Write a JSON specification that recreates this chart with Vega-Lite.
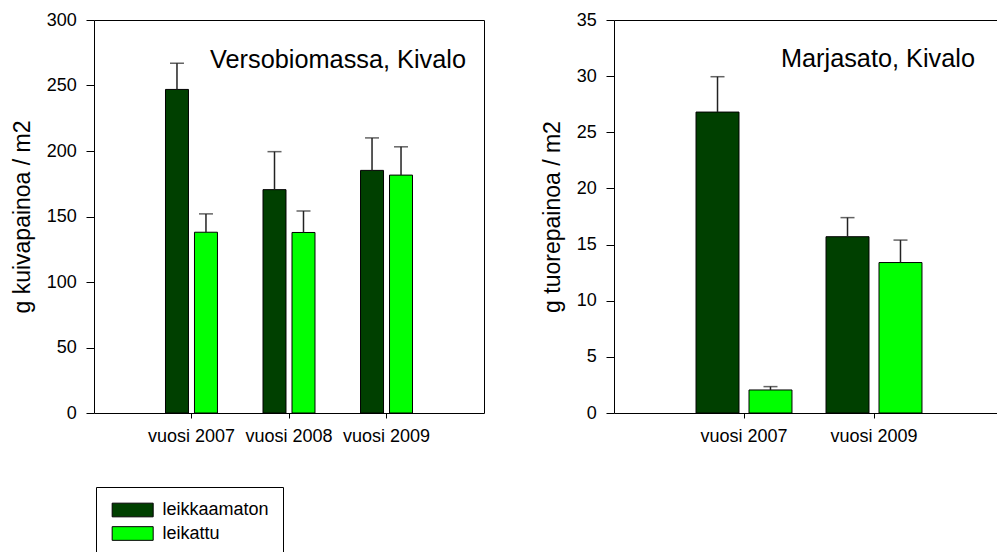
{
  "$schema": "https://vega.github.io/schema/vega-lite/v6.json",
  "background": "white",
  "padding": {"left": 10, "top": 10, "right": 0, "bottom": 0},
  "datasets": {
    "biomassa": [
      {"vuosi": "vuosi 2007", "hoito": "leikkaamaton", "keskiarvo": 247, "ylaraja": 267},
      {"vuosi": "vuosi 2007", "hoito": "leikattu", "keskiarvo": 138, "ylaraja": 152},
      {"vuosi": "vuosi 2008", "hoito": "leikkaamaton", "keskiarvo": 170.5, "ylaraja": 199.5},
      {"vuosi": "vuosi 2008", "hoito": "leikattu", "keskiarvo": 137.8, "ylaraja": 154.2},
      {"vuosi": "vuosi 2009", "hoito": "leikkaamaton", "keskiarvo": 185.2, "ylaraja": 210},
      {"vuosi": "vuosi 2009", "hoito": "leikattu", "keskiarvo": 181.6, "ylaraja": 203.2}
    ],
    "marjasato": [
      {"vuosi": "vuosi 2007", "hoito": "leikkaamaton", "keskiarvo": 26.8, "ylaraja": 29.95},
      {"vuosi": "vuosi 2007", "hoito": "leikattu", "keskiarvo": 2.05, "ylaraja": 2.35},
      {"vuosi": "vuosi 2009", "hoito": "leikkaamaton", "keskiarvo": 15.7, "ylaraja": 17.4},
      {"vuosi": "vuosi 2009", "hoito": "leikattu", "keskiarvo": 13.4, "ylaraja": 15.4}
    ]
  },
  "hconcat": [
    {
      "width": 390,
      "height": 393,
      "title": {
        "text": "Versobiomassa, Kivalo",
        "anchor": "end",
        "orient": "top",
        "frame": "group",
        "offset": 0,
        "dx": -18,
        "dy": 82,
        "baseline": "alphabetic",
        "fontSize": 25.3,
        "fontWeight": "normal",
        "font": "Liberation Sans",
        "color": "black"
      },
      "data": {"name": "biomassa"},
      "encoding": {
        "x": {
          "field": "vuosi",
          "type": "nominal",
          "scale": {"paddingInner": 0.467, "paddingOuter": 0.733},
          "axis": {"title": null, "labelAngle": 0}
        },
        "xOffset": {
          "field": "hoito",
          "type": "nominal",
          "scale": {"domain": ["leikkaamaton", "leikattu"], "paddingInner": 0.207, "paddingOuter": 0}
        }
      },
      "layer": [
        {
          "mark": {"type": "bar", "stroke": "black", "strokeWidth": 1},
          "encoding": {
            "y": {
              "field": "keskiarvo",
              "type": "quantitative",
              "scale": {"domain": [0, 300], "nice": false},
              "axis": {"title": "g kuivapainoa / m2", "values": [0, 50, 100, 150, 200, 250, 300]}
            },
            "color": {
              "field": "hoito",
              "type": "nominal",
              "scale": {"domain": ["leikkaamaton", "leikattu"], "range": ["#004000", "#00ff00"]},
              "legend": {
                "orient": "none",
                "legendX": 2,
                "legendY": 467,
                "title": null,
                "symbolType": "M-1,-1H5V1H-1Z",
                "symbolSize": 187,
                "symbolStrokeColor": "black",
                "symbolStrokeWidth": 1,
                "labelFontSize": 18,
                "labelFont": "Liberation Sans",
                "labelColor": "black",
                "labelOffset": 34.4,
                "padding": 14,
                "rowPadding": 5.5,
                "strokeColor": "black",
                "fillColor": "white"
              }
            }
          }
        },
        {
          "mark": {"type": "rule", "color": "#222", "strokeWidth": 1.5},
          "encoding": {
            "y": {"field": "keskiarvo", "type": "quantitative", "axis": {"title": "g kuivapainoa / m2", "values": [0, 50, 100, 150, 200, 250, 300]}},
            "y2": {"field": "ylaraja"}
          }
        },
        {
          "mark": {"type": "tick", "color": "#222", "size": 14, "thickness": 1.5},
          "encoding": {
            "y": {"field": "ylaraja", "type": "quantitative", "axis": {"title": "g kuivapainoa / m2", "values": [0, 50, 100, 150, 200, 250, 300]}}
          }
        }
      ]
    },
    {
      "width": 390,
      "height": 393,
      "title": {
        "text": "Marjasato, Kivalo",
        "anchor": "end",
        "orient": "top",
        "frame": "group",
        "offset": 0,
        "dx": -29,
        "dy": 81,
        "baseline": "alphabetic",
        "fontSize": 25.3,
        "fontWeight": "normal",
        "font": "Liberation Sans",
        "color": "black"
      },
      "data": {"name": "marjasato"},
      "encoding": {
        "x": {
          "field": "vuosi",
          "type": "nominal",
          "scale": {"paddingInner": 0.262, "paddingOuter": 0.631},
          "axis": {"title": null, "labelAngle": 0}
        },
        "xOffset": {
          "field": "hoito",
          "type": "nominal",
          "scale": {"domain": ["leikkaamaton", "leikattu"], "paddingInner": 0.189, "paddingOuter": 0}
        }
      },
      "layer": [
        {
          "mark": {"type": "bar", "stroke": "black", "strokeWidth": 1},
          "encoding": {
            "y": {
              "field": "keskiarvo",
              "type": "quantitative",
              "scale": {"domain": [0, 35], "nice": false},
              "axis": {"title": "g tuorepainoa / m2", "values": [0, 5, 10, 15, 20, 25, 30, 35]}
            },
            "color": {
              "field": "hoito",
              "type": "nominal",
              "scale": {"domain": ["leikkaamaton", "leikattu"], "range": ["#004000", "#00ff00"]}
            }
          }
        },
        {
          "mark": {"type": "rule", "color": "#222", "strokeWidth": 1.5},
          "encoding": {
            "y": {"field": "keskiarvo", "type": "quantitative", "axis": {"title": "g tuorepainoa / m2", "values": [0, 5, 10, 15, 20, 25, 30, 35]}},
            "y2": {"field": "ylaraja"}
          }
        },
        {
          "mark": {"type": "tick", "color": "#222", "size": 14, "thickness": 1.5},
          "encoding": {
            "y": {"field": "ylaraja", "type": "quantitative", "axis": {"title": "g tuorepainoa / m2", "values": [0, 5, 10, 15, 20, 25, 30, 35]}}
          }
        }
      ]
    }
  ],
  "spacing": 55,
  "resolve": {
    "scale": {"x": "independent", "xOffset": "independent", "y": "independent", "color": "shared"},
    "legend": {"color": "shared"}
  },
  "config": {
    "font": "Liberation Sans",
    "view": {"stroke": "black", "strokeWidth": 1},
    "axis": {
      "domain": false,
      "grid": false,
      "tickColor": "black",
      "labelColor": "black",
      "titleColor": "black",
      "labelFont": "Liberation Sans",
      "titleFont": "Liberation Sans",
      "labelFontSize": 18,
      "titleFontSize": 23,
      "titleFontWeight": "normal"
    },
    "axisY": {"tickSize": 8, "labelPadding": 9.7, "titlePadding": 12},
    "axisX": {"tickSize": 5, "labelPadding": 9}
  }
}
